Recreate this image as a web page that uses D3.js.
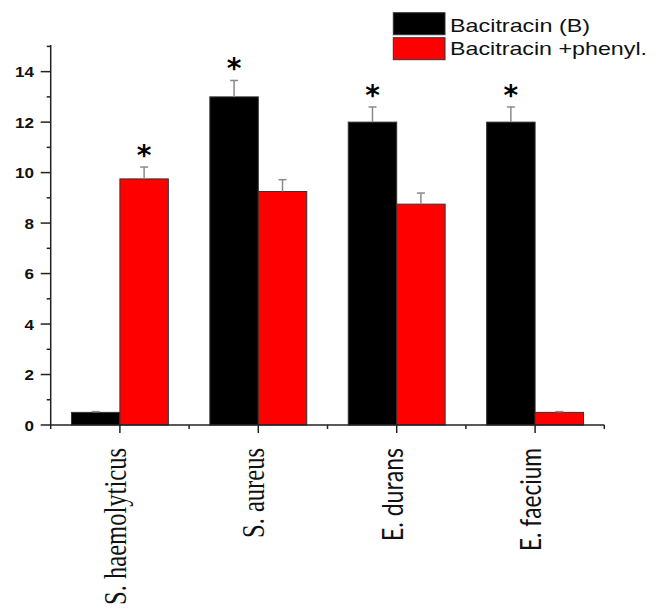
<!DOCTYPE html>
<html><head><meta charset="utf-8">
<script src="https://cdn.jsdelivr.net/npm/d3@7"></script>
<style>body{margin:0;background:#fff}svg{display:block}</style>
</head><body>
<script>
const categories = ["S. haemolyticus", "S. aureus", "E. durans", "E. faecium"];
const seriesNames = ["Bacitracin (B)", "Bacitracin +phenyl."];
const bacitracin = [0.5, 13, 12, 12];
const bacitracinErr = [0.03, 0.65, 0.6, 0.6];
const bacitracinPhenyl = [9.75, 9.25, 8.75, 0.5];
const bacitracinPhenylErr = [0.47, 0.47, 0.44, 0.03];
const bacitracinSig = [false, true, true, true];
const bacitracinPhenylSig = [true, false, false, false];
const yTicks = [0, 2, 4, 6, 8, 10, 12, 14];

const W = 662, H = 611;
const x0 = 50.7, x1 = 604.3, yBase = 425, yTop = 46.4;
const colors = ["#000000", "#ff0000"];

const svg = d3.select("body").append("svg").attr("width", W).attr("height", H);

const x = d3.scaleBand().domain(categories).range([x0, x1]).paddingInner(0.3).paddingOuter(0.15);
const xs = d3.scaleBand().domain(seriesNames).range([0, x.bandwidth()]);
const y = d3.scaleLinear().domain([0, 15]).range([yBase, yTop]);

const series = [
  {name: seriesNames[0], values: bacitracin, err: bacitracinErr, sig: bacitracinSig},
  {name: seriesNames[1], values: bacitracinPhenyl, err: bacitracinPhenylErr, sig: bacitracinPhenylSig}
];
const rows = [];
series.forEach((s, si) => categories.forEach((c, ci) => rows.push({c, si, name: s.name, v: s.values[ci], e: s.err[ci], sig: s.sig[ci]})));

// bars
svg.append("g").selectAll("rect").data(rows).join("rect")
  .attr("x", d => x(d.c) + xs(d.name))
  .attr("y", d => y(d.v))
  .attr("width", xs.bandwidth())
  .attr("height", d => y(0) - y(d.v))
  .attr("fill", d => colors[d.si])
  .attr("stroke", "#333").attr("stroke-width", 1);

// error bars
const eg = svg.append("g").attr("stroke", "#8a8a8a").attr("stroke-width", 1.5);
rows.forEach(d => {
  const cx = x(d.c) + xs(d.name) + xs.bandwidth() / 2;
  eg.append("line").attr("x1", cx).attr("x2", cx).attr("y1", y(d.v)).attr("y2", y(d.v + d.e));
  eg.append("line").attr("x1", cx - 4).attr("x2", cx + 4).attr("y1", y(d.v + d.e)).attr("y2", y(d.v + d.e));
});

// asterisks
svg.append("g").selectAll("text").data(rows.filter(d => d.sig)).join("text")
  .attr("x", d => x(d.c) + xs(d.name) + xs.bandwidth() / 2)
  .attr("y", d => y(d.v + d.e) - 2)
  .attr("text-anchor", "middle")
  .attr("font-family", "DejaVu Sans").attr("font-weight", "bold").attr("font-size", 28)
  .text("*");

// y axis
const ya = svg.append("g").attr("stroke", "#222").attr("stroke-width", 1.5);
ya.append("line").attr("x1", x0).attr("x2", x0).attr("y1", yTop - 1.5).attr("y2", yBase);
d3.range(0, 16).forEach(v => {
  const len = v % 2 === 0 ? 10 : 4;
  ya.append("line").attr("x1", x0 - len).attr("x2", x0).attr("y1", y(v)).attr("y2", y(v));
});
svg.append("g").selectAll("text").data(yTicks).join("text")
  .attr("transform", d => `translate(34,${y(d) + 5.5}) scale(1.1,1)`)
  .attr("text-anchor", "end")
  .attr("font-family", "Liberation Sans, Arial").attr("font-weight", "bold").attr("font-size", 15.5)
  .attr("fill", "#111")
  .text(d => d);

// x axis
const xa = svg.append("g").attr("stroke", "#222").attr("stroke-width", 1.5);
xa.append("line").attr("x1", x0).attr("x2", x1).attr("y1", yBase).attr("y2", yBase);
const step = x.step();
d3.range(0, 9).forEach(i => {
  const px = x0 + (i * step) / 2;
  const len = i % 2 === 1 ? 8 : 4;
  xa.append("line").attr("x1", px).attr("x2", px).attr("y1", yBase).attr("y2", yBase + len);
});

const labelFonts = ["Liberation Serif, Times New Roman", "Liberation Serif, Times New Roman", "Lato, Open Sans", "Lato, Open Sans"];
const labelSizes = [24, 24, 22, 22];
const labelLengths = [157, 90, 93, 103];
svg.append("g").selectAll("text").data(categories).join("text")
  .attr("transform", (d, i) => `translate(${x(d) + x.bandwidth() / 2 + 6},448) scale(1.28,1) rotate(-90)`)
  .attr("text-anchor", "end")
  .attr("font-family", (d, i) => labelFonts[i])
  .attr("font-size", (d, i) => labelSizes[i])
  .attr("textLength", (d, i) => labelLengths[i])
  .attr("lengthAdjust", "spacingAndGlyphs")
  .attr("fill", "#111")
  .text(d => d);

// legend
const legend = svg.append("g");
const legendLengths = [140, 197];
seriesNames.forEach((n, i) => {
  const ly = 12.7 + i * 25;
  legend.append("rect").attr("x", 393.3).attr("y", ly).attr("width", 51.7).attr("height", 22)
    .attr("fill", colors[i]).attr("stroke", "#333").attr("stroke-width", 1);
  legend.append("text").attr("x", 450).attr("y", 31.7 + i * 23.5)
    .attr("font-family", "Liberation Sans, Arial").attr("font-size", 18.5)
    .attr("textLength", legendLengths[i]).attr("lengthAdjust", "spacingAndGlyphs")
    .attr("fill", "#111")
    .text(n);
});
</script>
</body></html>
